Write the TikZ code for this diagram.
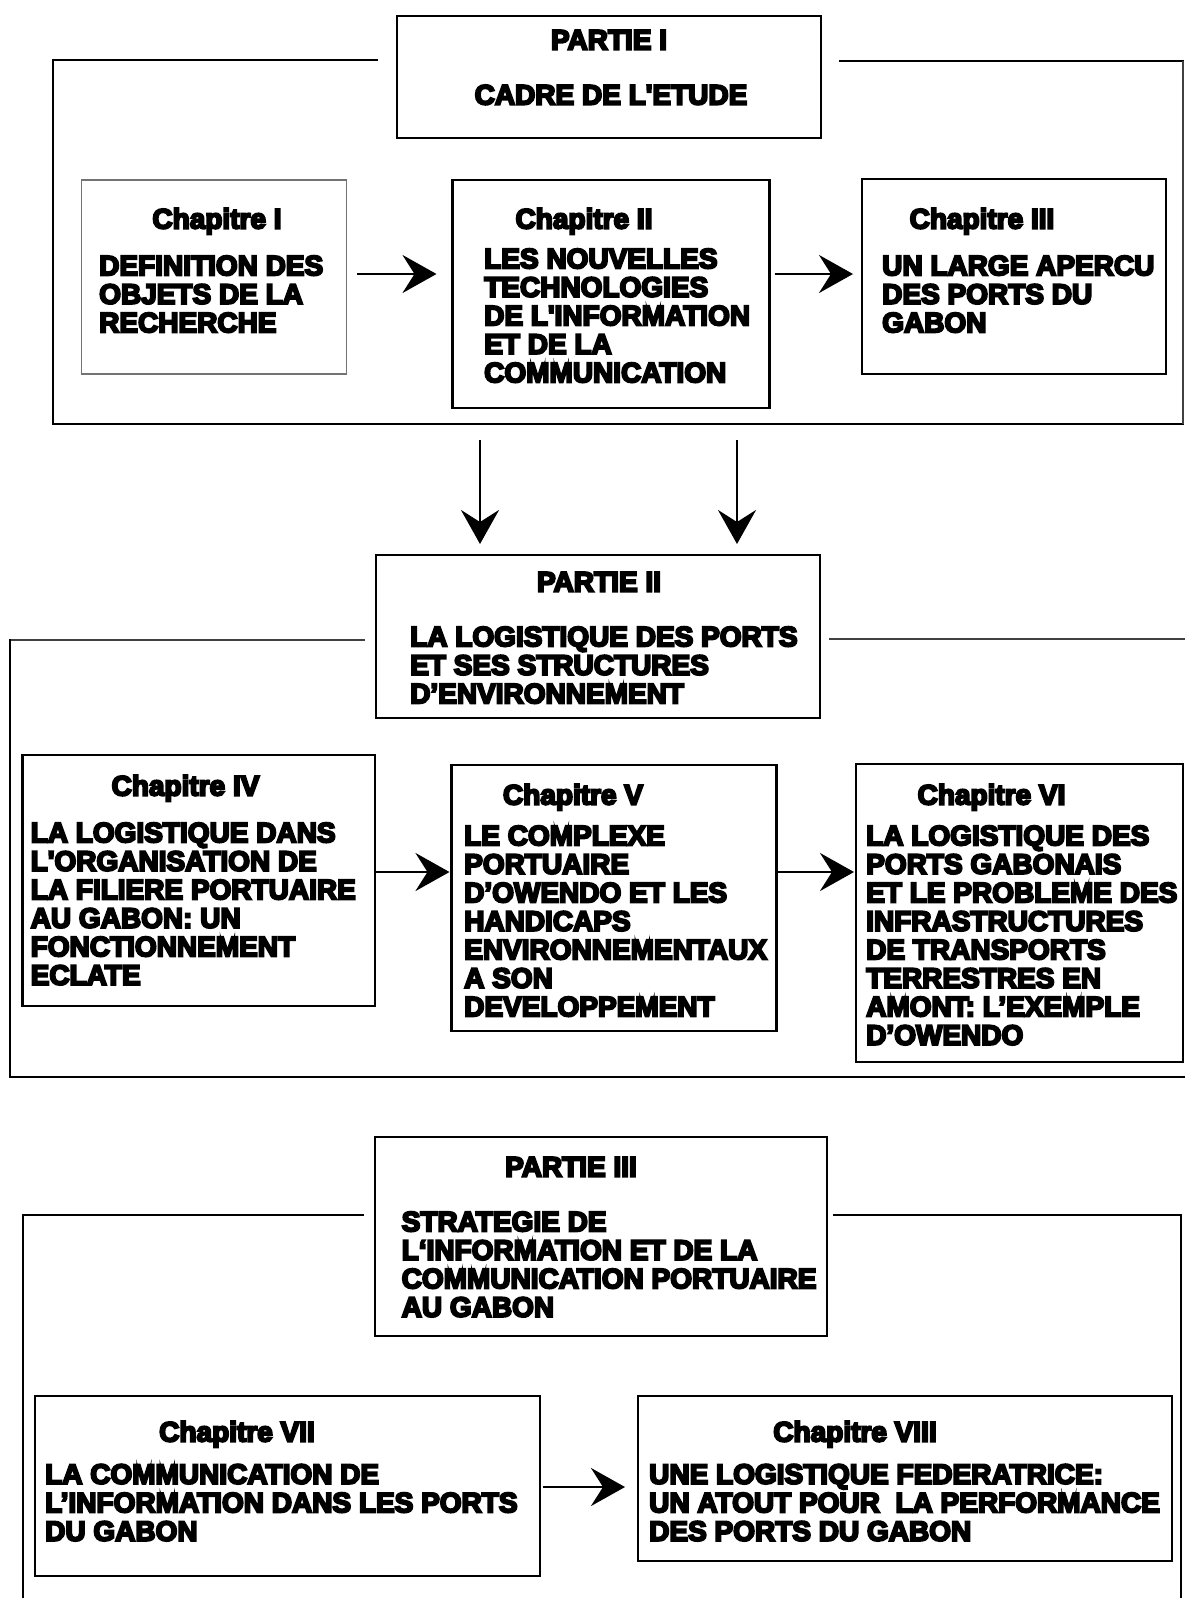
\documentclass[tikz,border=0pt]{standalone}
\usepackage{fontspec}
\setmainfont{Liberation Sans}
\usetikzlibrary{arrows.meta}

% heavier lettering: fill and stroke the glyph outlines
\newcommand\heavyon{\special{pdf:literal direct 2 Tr 2 w}}
\newcommand\heavyoff{\special{pdf:literal direct 0 Tr}}

\begin{document}
\begin{tikzpicture}[x=1pt,y=-1pt,
  box/.style={draw, line width=2.8pt, inner sep=0pt, outer sep=0pt, anchor=north west},
  lightbox/.style={box, draw=black!55, line width=1.7pt},
  txt/.style={font=\fontsize{28}{28.5}\selectfont\bfseries, inner sep=0pt,
    execute at begin node=\heavyon, execute at end node=\heavyoff},
  headtxt/.style={txt, anchor=base},
  bodytxt/.style={txt, anchor=north west, align=left},
  frameline/.style={line width=2.8pt},
  thinline/.style={line width=1.5pt, draw=black!75},
  arr/.style={line width=2.8pt, -{Stealth[length=34pt,width=38pt,inset=12pt]}},
]
\fill[white] (0,0) rectangle (1185,1598);
\useasboundingbox (0,0) rectangle (1185,1598);

% ---------- Partie I ----------
\draw[frameline] (378,60) -| (53,424) -- (1184,424);
\draw[frameline] (839,61) -- (1184,61);
\draw[thinline] (1183,61) -- (1183,424);

\node[box, minimum width=424pt, minimum height=122pt] (p1) at (397,16) {};
\node[headtxt] (p1h) at (609,49.5) {PARTIE I};
\node[headtxt] (p1b) at (611,104.5) {CADRE DE L\textquotesingle ETUDE};

\node[lightbox, minimum width=265pt, minimum height=194pt] (c1) at (81.5,180) {};
\node[headtxt] (c1h) at (217,228.5) {Chapitre I};
\node[bodytxt] (c1b) at (99,255.5) {DEFINITION DES\\OBJETS DE LA\\RECHERCHE};

\node[box, minimum width=317pt, minimum height=228pt] (c2) at (452.5,180) {};
\node[headtxt] (c2h) at (584,228.5) {Chapitre II};
\node[bodytxt] (c2b) at (484,248.5) {LES NOUVELLES\\TECHNOLOGIES\\DE L\textquotesingle INFORMATION\\ET DE LA\\COMMUNICATION};

\node[box, minimum width=304pt, minimum height=195pt] (c3) at (862,179) {};
\node[headtxt] (c3h) at (982,228.5) {Chapitre III};
\node[bodytxt] (c3b) at (882,255.5) {UN LARGE APERCU\\DES PORTS DU\\GABON};

\coordinate (ya) at (0,274);
\draw[arr, shorten <=10.5pt, shorten >=16pt] (c1.east |- ya) -- (c2.west |- ya);
\draw[arr, shorten <=5pt, shorten >=9pt] (c2.east |- ya) -- (c3.west |- ya);

% ---------- Partie II ----------
\node[box, minimum width=444pt, minimum height=163pt] (p2) at (376,555) {};
\node[headtxt] (p2h) at (599,591.5) {PARTIE II};
\node[bodytxt] (p2b) at (410,626.5) {LA LOGISTIQUE DES PORTS\\ET SES STRUCTURES\\D’ENVIRONNEMENT};

\coordinate (da) at (480,440);
\coordinate (db) at (737,440);
\draw[arr, shorten >=11pt] (da) -- (da |- p2.north);
\draw[arr, shorten >=11pt] (db) -- (db |- p2.north);

\draw[thinline] (365,640) -- (10,640);
\draw[frameline] (10,639) -- (10,1077) -- (1190,1077);
\draw[thinline] (829,639) -- (1190,639);

\node[box, minimum width=352.5pt, minimum height=251pt] (c4) at (22.5,755) {};
\node[headtxt] (c4h) at (185.5,795.5) {Chapitre IV};
\node[bodytxt] (c4b) at (30.5,822.5) {LA LOGISTIQUE DANS\\L\textquotesingle ORGANISATION DE\\LA FILIERE PORTUAIRE\\AU GABON: UN\\FONCTIONNEMENT\\ECLATE};

\node[box, minimum width=325pt, minimum height=266pt] (c5) at (451.5,765) {};
\node[headtxt] (c5h) at (573,804.5) {Chapitre V};
\node[bodytxt] (c5b) at (464,825.5) {LE COMPLEXE\\PORTUAIRE\\D’OWENDO ET LES\\HANDICAPS\\ENVIRONNEMENTAUX\\A SON\\DEVELOPPEMENT};

\node[box, minimum width=327pt, minimum height=298pt] (c6) at (856,764) {};
\node[headtxt] (c6h) at (991.5,804.5) {Chapitre VI};
\node[bodytxt] (c6b) at (866,825.5) {LA LOGISTIQUE DES\\PORTS GABONAIS\\ET LE PROBLEME DES\\INFRASTRUCTURES\\DE TRANSPORTS\\TERRESTRES EN\\AMONT: L’EXEMPLE\\D’OWENDO};

\coordinate (yb) at (0,872);
\draw[arr, shorten >=2pt] (c4.east |- yb) -- (c5.west |- yb);
\draw[arr, shorten >=2pt] (c5.east |- yb) -- (c6.west |- yb);

% ---------- Partie III ----------
\draw[frameline] (364,1215) -| (23,1605);
\draw[frameline] (833,1215) -| (1181,1605);

\node[box, minimum width=452pt, minimum height=199pt] (p3) at (375,1137) {};
\node[headtxt] (p3h) at (571,1176.5) {PARTIE III};
\node[bodytxt] (p3b) at (401.5,1211.5) {STRATEGIE DE\\L‘INFORMATION ET DE LA\\COMMUNICATION PORTUAIRE\\AU GABON};

\node[box, minimum width=505pt, minimum height=180pt] (c7) at (35,1396) {};
\node[headtxt] (c7h) at (237,1441.5) {Chapitre VII};
\node[bodytxt] (c7b) at (45,1464) {LA COMMUNICATION DE\\L’INFORMATION DANS LES PORTS\\DU GABON};

\node[box, minimum width=534pt, minimum height=165pt] (c8) at (638,1396) {};
\node[headtxt] (c8h) at (855,1441.5) {Chapitre VIII};
\node[bodytxt] (c8b) at (649,1464) {UNE LOGISTIQUE FEDERATRICE:\\UN ATOUT POUR\ \ LA PERFORMANCE\\DES PORTS DU GABON};

\coordinate (yc) at (0,1487);
\draw[arr, shorten <=3pt, shorten >=13pt] (c7.east |- yc) -- (c8.west |- yc);
\end{tikzpicture}
\end{document}
